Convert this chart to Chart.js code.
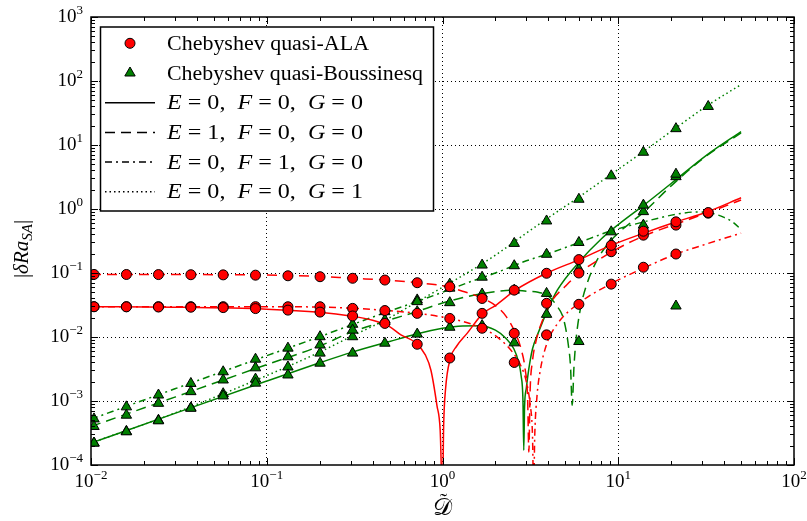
<!DOCTYPE html>
<html>
<head>
<meta charset="utf-8">
<script src="https://cdn.jsdelivr.net/npm/chart.js@4.4.1/dist/chart.umd.min.js"></script>
<style>
  html, body { margin: 0; padding: 0; background: #fff; }
  canvas { display: block; }
</style>
</head>
<body>
<canvas id="grafica" width="807" height="521"></canvas>
<script>
// ---------- Datos ----------
// Abscisas de los marcadores (Chebyshev)
const xMarcadores = [0.0104, 0.0159, 0.0242, 0.037, 0.0565, 0.0863, 0.132, 0.201, 0.308, 0.47,
                     0.718, 1.1, 1.68, 2.56, 3.91, 5.97, 9.12, 13.9, 21.3, 32.5];

// Marcadores quasi-ALA (círculos rojos)
const alaE0F0G0 = [0.0297, 0.0296, 0.0294, 0.0292, 0.0288, 0.0278, 0.0263, 0.0245, 0.0213, 0.0163,
                   0.0077, 0.0047, 0.0234, 0.054, 0.099, 0.162, 0.27, 0.45, 0.63, 0.88];
const alaE1F0G0 = [0.095, 0.0948, 0.0945, 0.094, 0.0935, 0.0925, 0.0905, 0.0875, 0.0827, 0.0776,
                   0.0705, 0.061, 0.040, 0.0114, 0.0336, 0.10, 0.215, 0.39, 0.56, 0.86];
const alaE0F1G0 = [0.0298, 0.0298, 0.0298, 0.0298, 0.0298, 0.0298, 0.0297, 0.0297, 0.028, 0.0259,
                   0.0234, 0.0195, 0.0137, 0.0040, 0.0108, 0.0324, 0.067, 0.123, 0.198, null];

// Marcadores quasi-Boussinesq (triángulos verdes)
const bqE0F0G0 = [2.2e-4, 3.3e-4, 4.9e-4, 7.7e-4, 1.2e-3, 1.9e-3, 2.55e-3, 3.9e-3, 5.6e-3, 8.0e-3,
                  0.0111, 0.0142, 0.0151, 0.0081, 0.0226, 0.115, 0.44, 1.15, 3.5, null];
const bqE1F0G0 = [4.0e-4, 6.0e-4, 9.2e-4, 1.4e-3, 2.13e-3, 3.3e-3, 4.9e-3, 7.5e-3, 0.0128, 0.0185,
                  0.0249, 0.0344, 0.047, 0.054, 0.048, 0.0085, 0.23, 0.91, 3.2, null];
const bqE0F1G0 = [5.25e-4, 8.1e-4, 1.24e-3, 1.88e-3, 2.86e-3, 4.5e-3, 6.7e-3, 0.0101, 0.0158, 0.0249,
                  0.0357, 0.058, 0.086, 0.13, 0.196, 0.30, 0.29, 0.56, 0.0305, null];
const bqE0F0G1 = [2.2e-4, 3.35e-4, 5.0e-4, 7.8e-4, 1.3e-3, 2.2e-3, 3.4e-3, 5.6e-3, 0.0101, 0.0175,
                  0.038, 0.067, 0.133, 0.29, 0.65, 1.42, 3.3, 7.7, 18, 40];

// Curvas teóricas quasi-ALA (rojo)
const xCurvaAlaE0 = [0.01, 0.03, 0.1, 0.2, 0.3, 0.4, 0.5, 0.58, 0.7, 0.8, 0.86, 0.93, 0.97, 1.0, 1.015,
                     1.04, 1.11, 1.2, 1.38, 1.7, 2.0, 2.6, 3.9, 6.0, 9.1, 14, 21, 32, 50];
const yCurvaAlaE0 = [0.0297, 0.0292, 0.0272, 0.0243, 0.0213, 0.0183, 0.0145, 0.0108, 0.0082, 0.0052, 0.003,
                     0.00085, 0.00035, 0.00003, 0.0004, 0.0015, 0.0047, 0.0071, 0.0114, 0.0234, 0.031,
                     0.054, 0.099, 0.162, 0.27, 0.42, 0.62, 0.9, 1.5];
const xCurvaAlaE1 = [0.01, 0.1, 0.2, 0.3, 0.5, 0.7, 1.0, 1.3, 1.7, 2.0, 2.3, 2.6, 2.8, 2.95, 3.05, 3.1,
                     3.15, 3.25, 3.4, 3.7, 4.2, 5, 6, 8, 11, 15, 22, 32, 50];
const yCurvaAlaE1 = [0.095, 0.093, 0.0885, 0.083, 0.077, 0.071, 0.063, 0.052, 0.040, 0.031, 0.021, 0.0115,
                     0.0065, 0.0032, 0.0011, 0.00016, 0.0014, 0.0042, 0.0085, 0.018, 0.037, 0.062, 0.10,
                     0.17, 0.28, 0.41, 0.6, 0.87, 1.38];
const xCurvaAlaF1 = [0.01, 0.1, 0.2, 0.3, 0.5, 0.7, 1.0, 1.5, 2.0, 2.5, 2.8, 3.0, 3.15, 3.25, 3.3, 3.35,
                     3.45, 3.6, 3.9, 4.5, 6, 9, 14, 21, 30, 50];
const yCurvaAlaF1 = [0.0298, 0.0297, 0.0294, 0.0282, 0.0258, 0.0236, 0.0205, 0.0155, 0.0105, 0.0058, 0.0035,
                     0.002, 0.0009, 0.0003, 0.00004, 0.0003, 0.0012, 0.003, 0.0075, 0.016, 0.034, 0.067,
                     0.12, 0.195, 0.27, 0.42];

// Curvas teóricas quasi-Boussinesq (verde)
const xCurvaBqE0 = [0.01, 0.03, 0.1, 0.2, 0.3, 0.5, 0.7, 1.0, 1.3, 1.6, 2.0, 2.3, 2.55, 2.7, 2.8, 2.87, 2.9,
                    2.93, 3.0, 3.1, 3.25, 3.5, 4.0, 4.5, 6, 8, 10, 14, 20, 32, 50];
const yCurvaBqE0 = [2.2e-4, 6.4e-4, 2.05e-3, 3.95e-3, 5.7e-3, 8.5e-3, 0.011, 0.0137, 0.0149, 0.015, 0.0128,
                    0.0095, 0.0065, 0.0042, 0.0025, 0.001, 1.7e-4, 8e-4, 1.6e-3, 3.2e-3, 6.5e-3, 0.0115,
                    0.028, 0.054, 0.15, 0.34, 0.57, 1.15, 2.5, 7.0, 16.2];
const xCurvaBqE1 = [0.01, 0.03, 0.1, 0.2, 0.3, 0.5, 0.7, 1.0, 1.5, 2.0, 2.5, 3.0, 3.5, 4.0, 4.5, 4.8, 5.0,
                    5.2, 5.35, 5.47, 5.6, 5.75, 5.9, 6.2, 6.6, 7.4, 8.5, 10, 14, 20, 30, 50];
const yCurvaBqE1 = [4.0e-4, 1.15e-3, 3.7e-3, 7.2e-3, 0.0118, 0.0185, 0.0245, 0.034, 0.045, 0.051, 0.054,
                    0.052, 0.05, 0.044, 0.03, 0.022, 0.0145, 0.0075, 0.0035, 8.6e-4, 3.5e-3, 9e-3,
                    0.0163, 0.035, 0.065, 0.14, 0.26, 0.42, 0.9, 2.3, 6.0, 15.5];
const xCurvaBqF1 = [0.01, 0.03, 0.1, 0.2, 0.3, 0.5, 0.7, 1.0, 1.5, 2.0, 3.0, 4.0, 6.0, 9.0, 14, 21, 28, 34,
                    40, 45, 50];
const yCurvaBqF1 = [5.2e-4, 1.55e-3, 5.1e-3, 0.0101, 0.0153, 0.0255, 0.035, 0.05, 0.076, 0.1, 0.155, 0.2,
                    0.30, 0.45, 0.63, 0.82, 0.9, 0.86, 0.74, 0.62, 0.48];
const xCurvaBqG1 = [0.01, 0.03, 0.1, 0.2, 0.3, 0.5, 0.7, 1.0, 1.5, 2.0, 3.0, 4.0, 6.0, 9.0, 14, 21, 32, 50];
const yCurvaBqG1 = [2.2e-4, 6.5e-4, 2.5e-3, 5.8e-3, 0.0101, 0.02, 0.034, 0.06, 0.115, 0.19, 0.42, 0.73,
                    1.55, 3.4, 8.0, 18, 41, 88];

// Ejes y leyenda
const ticksX = [1e-2, 1e-1, 1e0, 1e1, 1e2];
const ticksY = [1e-4, 1e-3, 1e-2, 1e-1, 1e0, 1e1, 1e2, 1e3];
const etiquetasMetodo = ['Chebyshev quasi-ALA', 'Chebyshev quasi-Boussinesq'];
const casosEFG = [[0, 0, 0], [1, 0, 0], [0, 1, 0], [0, 0, 1]];

// ---------- Estilos ----------
const ROJO = '#ff0000';
const VERDE = '#008000';
const SERIF = '"Liberation Serif", "DejaVu Serif", serif';
const guiones = {
  solido: [],
  discontinuo: [10, 6],
  rayaPunto: [7, 4, 2, 4],
  punteado: [1.5, 3]
};

const puntos = (xs, ys) => xs.map((x, i) => ({ x, y: ys[i] })).filter(p => p.y !== null);

function marcadores(ys, color, forma) {
  return {
    data: puntos(xMarcadores, ys),
    showLine: false,
    pointStyle: forma,
    pointRadius: forma === 'triangle' ? 6 : 5,
    pointBackgroundColor: color,
    pointBorderColor: '#000',
    pointBorderWidth: 1,
    order: 0
  };
}

function curva(xs, ys, color, guion) {
  return {
    data: puntos(xs, ys),
    showLine: true,
    borderColor: color,
    borderWidth: 1.5,
    borderDash: guion,
    pointRadius: 0,
    cubicInterpolationMode: 'monotone',
    order: 1
  };
}

const datasets = [
  curva(xCurvaAlaE0, yCurvaAlaE0, ROJO, guiones.solido),
  curva(xCurvaAlaE1, yCurvaAlaE1, ROJO, guiones.discontinuo),
  curva(xCurvaAlaF1, yCurvaAlaF1, ROJO, guiones.rayaPunto),
  curva(xCurvaBqE0, yCurvaBqE0, VERDE, guiones.solido),
  curva(xCurvaBqE1, yCurvaBqE1, VERDE, guiones.discontinuo),
  curva(xCurvaBqF1, yCurvaBqF1, VERDE, guiones.rayaPunto),
  curva(xCurvaBqG1, yCurvaBqG1, VERDE, guiones.punteado),
  marcadores(alaE0F0G0, ROJO, 'circle'),
  marcadores(alaE1F0G0, ROJO, 'circle'),
  marcadores(alaE0F1G0, ROJO, 'circle'),
  marcadores(bqE0F0G0, VERDE, 'triangle'),
  marcadores(bqE1F0G0, VERDE, 'triangle'),
  marcadores(bqE0F1G0, VERDE, 'triangle'),
  marcadores(bqE0F0G1, VERDE, 'triangle')
];

// ---------- Utilidades de texto ----------
function textoRico(ctx, partes, x, y, tam) {
  let cx = x;
  for (const [t, it, dy = 0, esc = 1] of partes) {
    ctx.font = `${it ? 'italic ' : ''}${Math.round(tam * esc)}px ${SERIF}`;
    ctx.fillText(t, cx, y + dy);
    cx += ctx.measureText(t).width;
  }
  return cx - x;
}

function anchoRico(ctx, partes, tam) {
  let w = 0;
  for (const [t, it, dy = 0, esc = 1] of partes) {
    ctx.font = `${it ? 'italic ' : ''}${Math.round(tam * esc)}px ${SERIF}`;
    w += ctx.measureText(t).width;
  }
  return w;
}

// Texto estirado en horizontal hasta un ancho dado (imita la métrica de Computer Modern)
function textoAncho(ctx, partes, x, y, tam, ancho) {
  const sx = ancho / anchoRico(ctx, partes, tam);
  ctx.save();
  ctx.translate(x, y);
  ctx.scale(sx, 1);
  textoRico(ctx, partes, 0, 0, tam);
  ctx.restore();
}

function potencia(ctx, valor, x, y, alineado) {
  const exp = String(Math.round(Math.log10(valor))).replace('-', '\u2212');
  const partes = [['10', false], [exp, false, -8, 0.7]];
  const w = anchoRico(ctx, partes, 19);
  const x0 = alineado === 'centro' ? x - w / 2 : x - w;
  textoRico(ctx, partes, x0, y, 19);
}

// ---------- Plugin: marco, ticks internos, etiquetas y leyenda ----------
const marcoEstiloMpl = {
  id: 'marcoEstiloMpl',
  beforeDraw(chart) {
    const { ctx } = chart;
    ctx.save();
    ctx.fillStyle = '#fff';
    ctx.fillRect(0, 0, chart.width, chart.height);
    ctx.restore();
  },
  afterDraw(chart) {
    const { ctx, chartArea: a, scales: { x, y } } = chart;
    ctx.save();
    ctx.strokeStyle = '#000';
    ctx.fillStyle = '#000';
    ctx.lineWidth = 1;

    // ticks menores y mayores hacia dentro
    const marca = (px, py, dx, dy) => {
      ctx.beginPath();
      ctx.moveTo(px, py);
      ctx.lineTo(px + dx, py + dy);
      ctx.stroke();
    };
    for (let e = -2; e <= 2; e++) {
      for (let m = 1; m <= 9; m++) {
        const v = m * Math.pow(10, e);
        if (v < 0.01 || v > 100) continue;
        const px = Math.round(x.getPixelForValue(v)) + 0.5;
        const largo = m === 1 ? 7 : 4;
        marca(px, a.bottom, 0, -largo);
        marca(px, a.top, 0, largo);
      }
    }
    for (let e = -4; e <= 3; e++) {
      for (let m = 1; m <= 9; m++) {
        const v = m * Math.pow(10, e);
        if (v < 1e-4 || v > 1e3) continue;
        const py = Math.round(y.getPixelForValue(v)) + 0.5;
        const largo = m === 1 ? 7 : 4;
        marca(a.left, py, largo, 0);
        marca(a.right, py, -largo, 0);
      }
    }

    // marco
    ctx.lineWidth = 1.5;
    ctx.strokeRect(a.left, a.top, a.right - a.left, a.bottom - a.top);

    // etiquetas de ticks
    ctx.textBaseline = 'alphabetic';
    ticksX.forEach(v => potencia(ctx, v, x.getPixelForValue(v), 487, 'centro'));
    ticksY.forEach(v => potencia(ctx, v, 83, y.getPixelForValue(v) + 5, 'derecha'));

    // título eje x: D con tilde
    ctx.textAlign = 'center';
    ctx.font = `24px ${SERIF}`;
    ctx.fillText('\u{1D49F}', (a.left + a.right) / 2, 515);
    ctx.font = `22px ${SERIF}`;
    ctx.fillText('\u02DC', (a.left + a.right) / 2 + 1, 508);
    ctx.textAlign = 'left';

    // título eje y
    ctx.save();
    ctx.translate(28, (a.top + a.bottom) / 2 + 8);
    ctx.rotate(-Math.PI / 2);
    const partesY = [['|', false], ['\u03B4', true], ['Ra', true], ['SA', true, 4, 0.72], ['|', false]];
    const wY = anchoRico(ctx, partesY, 21);
    textoRico(ctx, partesY, -wY / 2, 0, 21);
    ctx.restore();

    // leyenda
    const caja = { x: 100.5, y: 27, w: 333, h: 184 };
    ctx.fillStyle = '#fff';
    ctx.fillRect(caja.x, caja.y, caja.w, caja.h);
    ctx.lineWidth = 1.5;
    ctx.strokeRect(caja.x, caja.y, caja.w, caja.h);
    ctx.fillStyle = '#000';

    const filaY = i => 43.3 + i * 29.7;
    const xMarca = 130, xTexto = 167;
    // marcadores
    ctx.lineWidth = 1;
    ctx.beginPath();
    ctx.arc(xMarca, filaY(0), 5, 0, Math.PI * 2);
    ctx.fillStyle = ROJO; ctx.fill(); ctx.stroke();
    ctx.beginPath();
    const r = 6, cy = filaY(1);
    ctx.moveTo(xMarca, cy - r);
    ctx.lineTo(xMarca + r * Math.sin(2 * Math.PI / 3), cy - r * Math.cos(2 * Math.PI / 3));
    ctx.lineTo(xMarca + r * Math.sin(4 * Math.PI / 3), cy - r * Math.cos(4 * Math.PI / 3));
    ctx.closePath();
    ctx.fillStyle = VERDE; ctx.fill(); ctx.stroke();
    ctx.fillStyle = '#000';
    const anchosMetodo = [202, 256];
    etiquetasMetodo.forEach((t, i) => {
      textoAncho(ctx, [[t, false]], xTexto, filaY(i) + 6.5, 20, anchosMetodo[i]);
    });
    // líneas de estilo
    const estilos = [guiones.solido, guiones.discontinuo, guiones.rayaPunto, guiones.punteado];
    casosEFG.forEach(([e, f, g], i) => {
      const yy = filaY(i + 2);
      ctx.save();
      ctx.lineWidth = 1.5;
      ctx.setLineDash(estilos[i]);
      ctx.beginPath();
      ctx.moveTo(105, yy);
      ctx.lineTo(155, yy);
      ctx.stroke();
      ctx.restore();
      textoAncho(ctx, [['E', true], [` = ${e},  `, false], ['F', true], [` = ${f},  `, false],
                       ['G', true], [` = ${g}`, false]], xTexto, yy + 6.5, 20, 196);
    });
    ctx.restore();
  }
};

// ---------- Gráfica ----------
const ejeLog = (min, max, ticks, ajuste) => ({
  type: 'logarithmic',
  min, max,
  ticks: { display: false },
  grid: {
    drawTicks: false,
    color: c => (c.tick && c.tick.value > min && c.tick.value < max) ? '#000' : 'rgba(0,0,0,0)',
    lineWidth: 1
  },
  border: { display: false, dash: [1, 3] },
  afterBuildTicks: s => { s.ticks = ticks.map(v => ({ value: v })); },
  afterFit: ajuste
});

new Chart(document.getElementById('grafica').getContext('2d'), {
  type: 'scatter',
  data: { datasets },
  options: {
    responsive: false,
    animation: false,
    events: [],
    layout: { padding: { top: 17, right: 13, left: 0, bottom: 0 } },
    plugins: { legend: { display: false }, tooltip: { enabled: false } },
    scales: {
      x: ejeLog(1e-2, 1e2, ticksX, s => { s.height = 56; }),
      y: ejeLog(1e-4, 1e3, ticksY, s => { s.width = 91; })
    }
  },
  plugins: [marcoEstiloMpl]
});
</script>
</body>
</html>
